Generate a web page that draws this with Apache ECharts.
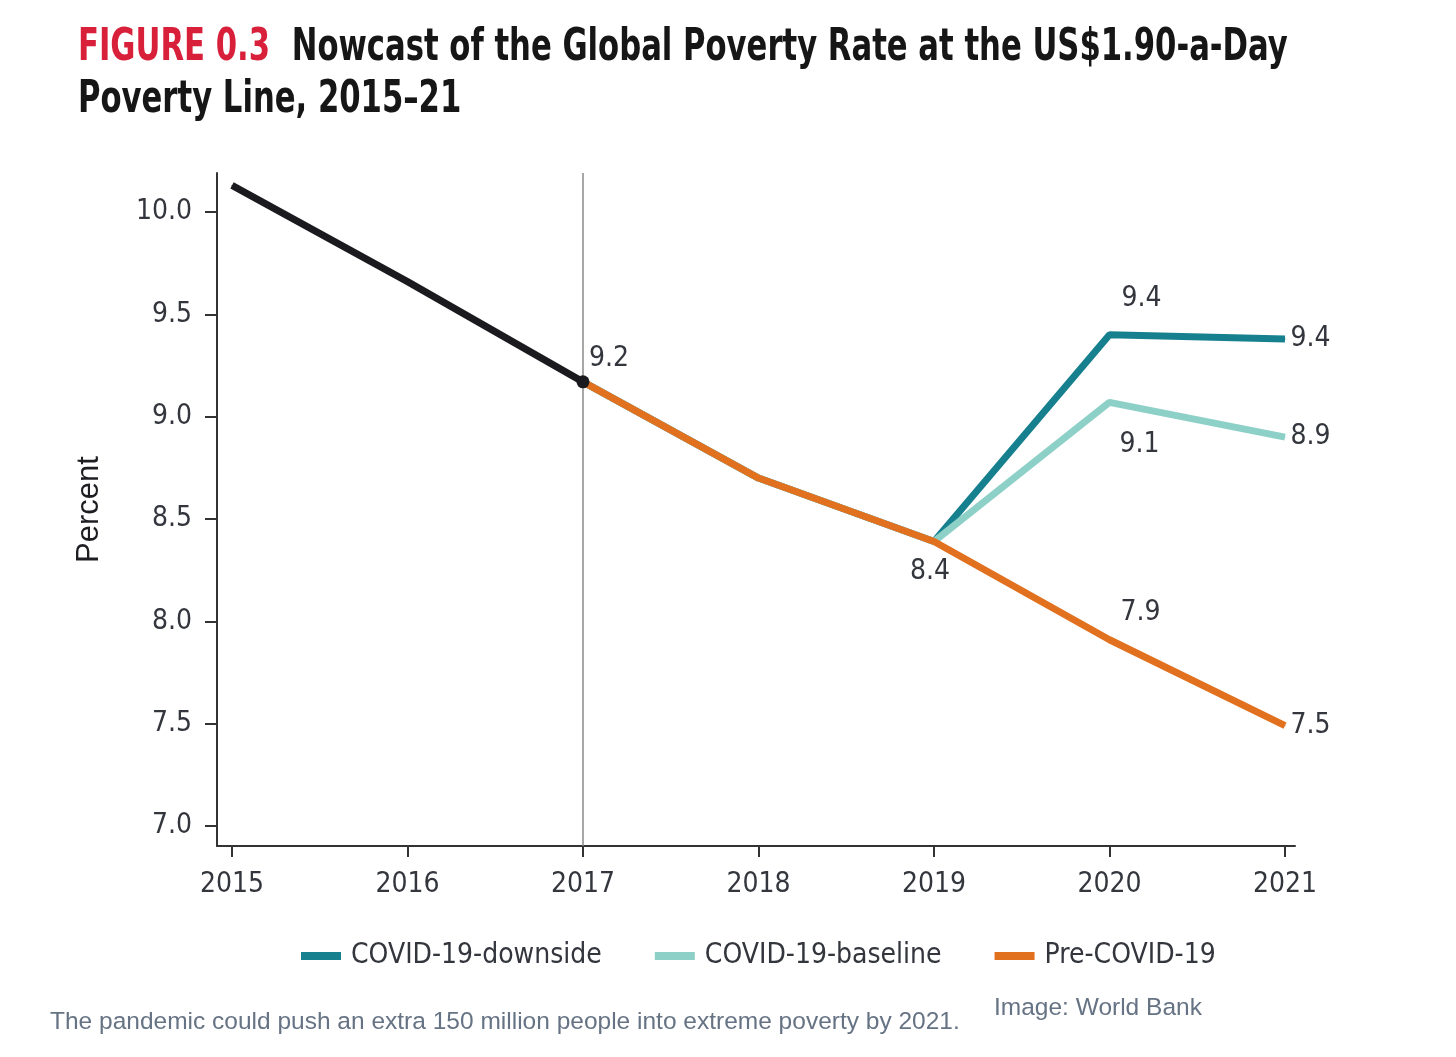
<!DOCTYPE html>
<html>
<head>
<meta charset="utf-8">
<script src="https://cdn.jsdelivr.net/npm/echarts@6/dist/echarts.min.js"></script>
<style>
html,body{margin:0;padding:0;background:#ffffff;}
#chart{width:1456px;height:1057px;}
</style>
</head>
<body>
<div id="chart"></div>
<script>
// ---- data ----
const years = [2015, 2016, 2017, 2018, 2019, 2020, 2021];
const historical = [10.13, 9.66, 9.17, null, null, null, null];
const preCovid   = [null, null, 9.17, 8.70, 8.39, 7.91, 7.49];
const baseline   = [null, null, 9.17, 8.70, 8.39, 9.07, 8.90];
const downside   = [null, null, 9.17, 8.70, 8.39, 9.40, 9.38];
const yTicks = [7.0, 7.5, 8.0, 8.5, 9.0, 9.5, 10.0];
const seriesNames = ['COVID-19-downside', 'COVID-19-baseline', 'Pre-COVID-19'];
const titleRed = 'FIGURE 0.3';
const titleLine1 = 'Nowcast of the Global Poverty Rate at the US$1.90-a-Day';
const titleLine2 = 'Poverty Line, 2015–21';
const caption = 'The pandemic could push an extra 150 million people into extreme poverty by 2021.';
const credit = 'Image: World Bank';

// ---- styles ----
const FONT = '"DejaVu Sans Condensed", "Liberation Sans", sans-serif';
const SANS = '"Liberation Sans", Arial, sans-serif';
const C_DOWN = '#17808f';
const C_BASE = '#8dd0c7';
const C_PRE  = '#e2711f';
const C_HIST = '#1b1b1f';
const TXT = '#34363d';
const FS = 28;
const labelBase = { show: true, color: TXT, fontFamily: FONT, fontSize: FS,
  formatter: p => p.value[1].toFixed(1) };

function build(values, labels) {
  const out = [];
  values.forEach((v, i) => {
    if (v === null) return;
    const item = { value: [years[i], v] };
    if (labels && labels[i]) {
      item.label = Object.assign({}, labelBase, labels[i]);
    }
    out.push(item);
  });
  return out;
}

const chart = echarts.init(document.getElementById('chart'));
const xMin = 2015 - 15 / 175.5, xMax = 2021 + 10 / 175.5;
const yMin = 7 - 20 / 204.67, yMax = 10 + 39 / 204.67;

function lineSeries(name, color, width, z, values, labels) {
  return {
    type: 'line', name: name, z: z, color: color,
    symbol: 'circle', symbolSize: 1, showSymbol: true,
    silent: true, animation: false,
    itemStyle: { color: color },
    lineStyle: { color: color, width: width },
    data: build(values, labels)
  };
}

const sDown = lineSeries(seriesNames[0], C_DOWN, 7, 2, downside,
  { 5: { position: 'inside', offset: [32, -36] }, 6: { position: 'right', distance: 5 } });
const sBase = lineSeries(seriesNames[1], C_BASE, 7, 3, baseline,
  { 5: { position: 'inside', offset: [30, 42] }, 6: { position: 'right', distance: 5 } });
const sPre = lineSeries(seriesNames[2], C_PRE, 7, 4, preCovid,
  { 4: { position: 'inside', offset: [-4, 30] }, 5: { position: 'inside', offset: [31, -27] }, 6: { position: 'right', distance: 5 } });
const sHist = lineSeries('Historical', C_HIST, 7, 5, historical,
  { 2: { position: 'inside', offset: [26, -23] } });
sHist.data[sHist.data.length - 1].symbolSize = 13;
sHist.markLine = {
  silent: true, symbol: 'none', animation: false,
  label: { show: false },
  lineStyle: { color: '#8a8a8a', width: 1.5, type: 'solid' },
  data: [{ xAxis: years[2] }]
};

chart.setOption({
  backgroundColor: '#ffffff',
  animation: false,
  legend: {
    left: 296, top: 937,
    itemWidth: 40, itemHeight: 8, itemGap: 53,
    icon: 'rect',
    data: [
      { name: seriesNames[0], itemStyle: { color: C_DOWN, opacity: 1 } },
      { name: seriesNames[1], itemStyle: { color: C_BASE, opacity: 1 } },
      { name: seriesNames[2], itemStyle: { color: C_PRE, opacity: 1 } }
    ],
    textStyle: { color: TXT, fontFamily: FONT, fontSize: FS, padding: [0, 0, 0, 5] }
  },
  grid: { left: 217, right: 161, top: 173, bottom: 211, containLabel: false },
  xAxis: {
    type: 'value', min: xMin, max: xMax,
    splitLine: { show: false },
    axisLine: { show: true, lineStyle: { color: '#333', width: 2 } },
    axisTick: { show: true, customValues: years, length: 11, lineStyle: { color: '#333', width: 2 } },
    axisLabel: { customValues: years, margin: 25, color: TXT, fontFamily: FONT, fontSize: FS,
      formatter: v => String(Math.round(v)) }
  },
  yAxis: {
    type: 'value', min: yMin, max: yMax,
    name: 'Percent', nameLocation: 'middle', nameGap: 112, nameRotate: 90,
    nameTextStyle: { color: '#1e1e22', fontFamily: SANS, fontSize: 31 },
    splitLine: { show: false },
    axisLine: { show: true, lineStyle: { color: '#333', width: 2 } },
    axisTick: { show: true, customValues: yTicks, length: 12, lineStyle: { color: '#333', width: 2 } },
    axisLabel: { customValues: yTicks, margin: 25, color: TXT, fontFamily: FONT, fontSize: FS,
      formatter: v => v.toFixed(1) }
  },
  series: [sDown, sBase, sPre, sHist],
  graphic: [
    { type: 'text', x: 78, y: 23, scaleX: 0.775, silent: true,
      style: {
        text: '{r|' + titleRed + '}{sp| }{b|' + titleLine1 + '}\n{b|' + titleLine2 + '}',
        rich: {
          r: { fill: '#d8203b', fontFamily: FONT, fontWeight: 'bold', fontSize: 44, lineHeight: 52 },
          sp: { fontFamily: FONT, fontSize: 44, lineHeight: 52, width: 28 },
          b: { fill: '#161616', fontFamily: FONT, fontWeight: 'bold', fontSize: 44, lineHeight: 52 }
        }
      } },
    { type: 'text', left: 50, top: 1010, silent: true,
      style: { text: caption, fill: '#667384', font: '24.5px ' + SANS } },
    { type: 'text', left: 994, top: 996, silent: true,
      style: { text: credit, fill: '#667384', font: '24.5px ' + SANS } }
  ]
});
</script>
</body>
</html>
